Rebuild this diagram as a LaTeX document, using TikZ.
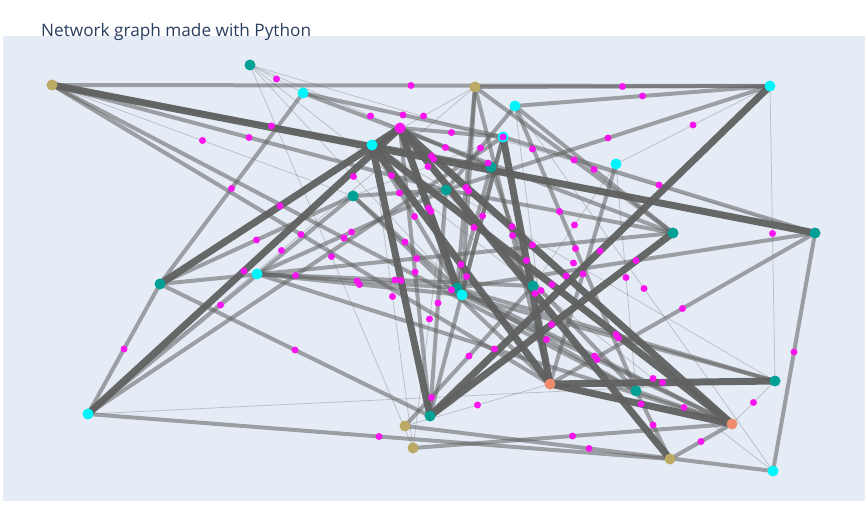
\documentclass[tikz,border=0pt]{standalone}
\usepackage{fontspec}
\setmainfont{Open Sans}
\usetikzlibrary{calc}
\pgfdeclarelayer{bg}
\pgfdeclarelayer{edges}
\pgfdeclarelayer{top}
\pgfsetlayers{bg,edges,main,top}

\definecolor{plotbg}{RGB}{229,236,246}
\definecolor{titlecol}{RGB}{42,63,95}
\definecolor{olivecol}{RGB}{186,170,100}
\definecolor{tealcol}{RGB}{0,160,150}
\definecolor{cyancol}{RGB}{0,245,250}
\definecolor{salmoncol}{RGB}{240,140,110}
\definecolor{midcol}{RGB}{250,20,240}
\definecolor{edgecol}{RGB}{96,96,96}

\tikzset{
  graphnode/.style={circle,inner sep=0pt,minimum size=11pt},
  heavyedge/.style={line width=7pt,draw=edgecol,draw opacity=0.95},
  midedge/.style={line width=4pt,draw=edgecol,draw opacity=0.55},
  lightedge/.style={line width=0.8pt,draw=edgecol,draw opacity=0.3},
  middot/.style={fill=midcol}
}

% node name / x / y / colour
\def\nodelist{a/52/85/olivecol, b/250/65/tealcol, c/303/93/cyancol,
  d/475/87/olivecol, e/515/106/cyancol, f/770/86/cyancol,
  g/372/145/cyancol, h/400/128/midcol, i/503/137/cyancol,
  j/616/164/cyancol, k/491/167/tealcol, l/446/190/tealcol,
  m/353/196/tealcol, n/673/233/tealcol, o/815/233/tealcol,
  p/160/284/tealcol, q/257/274/cyancol, r/457/288/tealcol,
  s/462/295/cyancol, t/533/286/tealcol, u/550/384/salmoncol,
  v/636/391/tealcol, w/775/381/tealcol, x/732/424/salmoncol,
  y/670/459/olivecol, z/773/471/cyancol, A/88/414/cyancol,
  B/430/416/tealcol, C/405/426/olivecol, E/413/448/olivecol}

% from / to / weight
\def\edgelist{a/f/midedge, d/f/midedge, e/f/midedge, b/c/lightedge,
  b/k/lightedge, c/i/midedge, g/d/lightedge, h/i/midedge, h/k/midedge,
  e/l/midedge, b/o/lightedge, d/n/midedge, e/n/midedge, a/o/heavyedge,
  g/k/midedge, m/i/lightedge, c/n/midedge, b/r/lightedge, b/t/lightedge,
  d/s/midedge, d/r/midedge, m/l/midedge, l/n/midedge, j/t/lightedge,
  h/r/heavyedge, h/s/midedge, g/r/midedge, i/s/midedge, k/r/midedge,
  d/u/midedge, k/t/midedge, a/u/midedge, q/l/midedge, a/v/midedge,
  m/r/midedge, e/u/lightedge, e/v/midedge, b/E/lightedge, p/n/midedge,
  g/u/heavyedge, i/u/heavyedge, g/w/lightedge, A/d/lightedge, f/l/midedge,
  f/j/lightedge, i/o/midedge, f/w/lightedge, f/B/heavyedge, o/r/midedge,
  a/k/midedge, a/l/midedge, a/m/lightedge, p/c/midedge, p/h/heavyedge,
  p/m/midedge, A/h/heavyedge, A/i/midedge, A/m/midedge, A/p/midedge,
  p/B/midedge, q/r/midedge, q/s/midedge, q/t/midedge, g/B/heavyedge,
  h/B/midedge, g/E/lightedge, m/u/midedge, i/B/midedge, l/B/midedge,
  l/E/lightedge, t/C/midedge, q/x/midedge, n/B/heavyedge, r/v/midedge,
  h/y/heavyedge, l/v/midedge, g/x/heavyedge, h/x/heavyedge, j/u/midedge,
  A/w/lightedge, u/C/lightedge, A/y/midedge, E/x/midedge, j/v/lightedge,
  e/z/lightedge, o/u/midedge, o/z/midedge, r/w/midedge, s/w/midedge,
  r/x/midedge, s/x/midedge, t/z/lightedge, u/w/heavyedge, u/x/heavyedge,
  v/x/midedge, w/x/lightedge, v/y/midedge, C/z/midedge, x/y/midedge}

\begin{document}
\begin{tikzpicture}[x=1pt,y=-1pt,line cap=round,line join=round]
\useasboundingbox (0,0) rectangle (866,510);
\begin{pgfonlayer}{bg}
\fill[plotbg] (3,36) rectangle (865,501);
\end{pgfonlayer}
\node[anchor=base west,text=titlecol,font=\fontsize{17.2}{20}\selectfont,inner sep=0pt]
  (title) at (41,37) {Network graph made with Python};

\foreach \nm/\px/\py/\nc in \nodelist
  \node[graphnode,fill=\nc] (\nm) at (\px,\py) {};

\begin{pgfonlayer}{edges}
\foreach \ea/\eb/\ew in \edgelist
  \draw[\ew] (\ea.center) -- (\eb.center);
\end{pgfonlayer}

\begin{pgfonlayer}{top}
\foreach \ea/\eb/\ew in \edgelist
  \fill[middot] ($(\ea)!0.5!(\eb)$) circle (3.5pt);
\fill[middot] (i) circle (3.5pt);
\end{pgfonlayer}
\end{tikzpicture}
\end{document}
